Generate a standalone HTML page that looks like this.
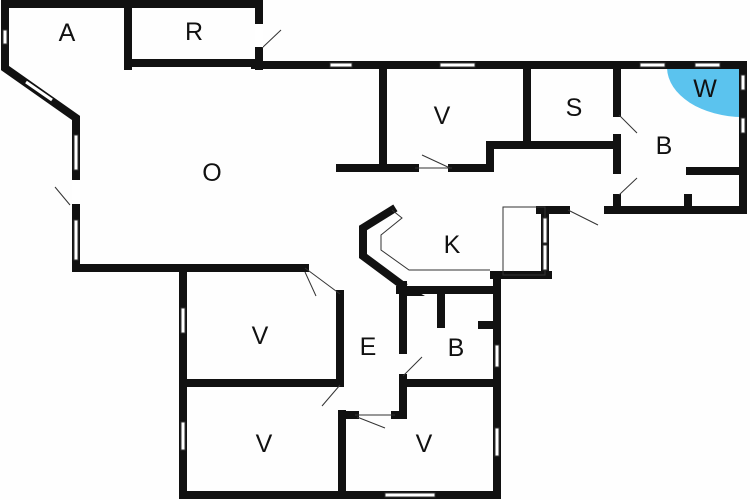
<!DOCTYPE html>
<html><head><style>html,body{margin:0;padding:0;background:#fff;}svg{display:block}</style></head>
<body>
<svg width="750" height="500" viewBox="0 0 750 500" xmlns="http://www.w3.org/2000/svg">
<rect width="750" height="500" fill="#fefefe"/>
<path d="M743 68 L743 117 A 76 50 0 0 1 667 68 Z" fill="#5bc3ee"/>
<g stroke="#111" stroke-width="8" fill="none" stroke-linecap="square">
<polyline points="259,22 259,4 5,4 5,68 76,118 76,268 305,268"/>
<line x1="128" y1="4" x2="128" y2="66"/>
<line x1="128" y1="63" x2="259" y2="63"/>
<line x1="259" y1="48" x2="259" y2="66"/>
<polyline points="255,65 743,65 743,210 608,210"/>
<line x1="383" y1="65" x2="383" y2="168"/>
<line x1="340" y1="168" x2="415" y2="168"/>
<polyline points="452,168 490,168 490,145 617,145"/>
<line x1="527" y1="65" x2="527" y2="143"/>
<line x1="617" y1="65" x2="617" y2="113"/>
<line x1="617" y1="138" x2="617" y2="170"/>
<line x1="617" y1="198" x2="617" y2="210"/>
<line x1="690" y1="171" x2="740" y2="171"/>
<line x1="688" y1="198" x2="688" y2="210"/>
<line x1="540" y1="210" x2="566" y2="210"/>
<line x1="545" y1="210" x2="545" y2="275"/>
<line x1="494" y1="275" x2="548" y2="275"/>
<polyline points="392,210 363,228 363,256 402,285"/>
<line x1="400" y1="290" x2="497" y2="290"/>
<line x1="183" y1="268" x2="183" y2="495"/>
<line x1="183" y1="495" x2="497" y2="495"/>
<line x1="497" y1="277" x2="497" y2="495"/>
<line x1="340" y1="294" x2="340" y2="382"/>
<line x1="183" y1="383" x2="340" y2="383"/>
<line x1="342" y1="414" x2="342" y2="495"/>
<line x1="342" y1="415" x2="355" y2="415"/>
<line x1="395" y1="415" x2="403" y2="415"/>
<line x1="403" y1="285" x2="403" y2="350"/>
<line x1="403" y1="378" x2="403" y2="415"/>
<line x1="403" y1="383" x2="497" y2="383"/>
<line x1="441" y1="293" x2="441" y2="324"/>
<line x1="482" y1="325" x2="497" y2="325"/>
</g>
<polygon points="400,282 400,296 425,296" fill="#111"/>
<g stroke="#333" stroke-width="1" fill="none">
<polyline points="392,210 402,218 381,235 381,250 409,270 490,270"/>
<rect x="503" y="207" width="42" height="68"/>
<line x1="305" y1="268" x2="340" y2="294"/>
<line x1="305" y1="272" x2="316" y2="296"/>
<line x1="262" y1="48" x2="281" y2="30"/>
<line x1="70" y1="205" x2="55" y2="187"/>
<line x1="422" y1="155" x2="450" y2="168"/>
<line x1="619" y1="115" x2="637" y2="133"/>
<line x1="619" y1="195" x2="637" y2="178"/>
<line x1="568" y1="210" x2="598" y2="225"/>
<line x1="403" y1="376" x2="422" y2="357"/>
<line x1="340" y1="385" x2="322" y2="406"/>
<line x1="357" y1="417" x2="385" y2="428"/>
<line x1="415" y1="168" x2="452" y2="168"/>
<line x1="355" y1="415" x2="395" y2="415"/>
</g>
<g fill="#fff" stroke="#333" stroke-width="1">
<rect x="3" y="30" width="4" height="14"/>
<rect x="74" y="135" width="4" height="35"/>
<rect x="74" y="220" width="4" height="40"/>
<rect x="330" y="63" width="22" height="4"/>
<rect x="440" y="63" width="35" height="4"/>
<rect x="640" y="63" width="25" height="4"/>
<rect x="695" y="63" width="25" height="4"/>
<rect x="741" y="75" width="4" height="15"/>
<rect x="741" y="118" width="4" height="15"/>
<rect x="543" y="218" width="4" height="25"/>
<rect x="543" y="245" width="4" height="25"/>
<rect x="181" y="308" width="4" height="25"/>
<rect x="181" y="422" width="4" height="28"/>
<rect x="495" y="345" width="4" height="22"/>
<rect x="495" y="428" width="4" height="28"/>
<rect x="385" y="493" width="50" height="4"/>
<rect x="255" y="24" width="8" height="23" stroke="none"/>
<rect x="72" y="180" width="8" height="24" stroke="none"/>
</g>
<line x1="26" y1="82" x2="52" y2="100" stroke="#fff" stroke-width="3"/>
<g font-family="Liberation Sans, sans-serif" font-size="25" fill="#111" text-anchor="middle">
<text x="67" y="41">A</text>
<text x="194" y="40">R</text>
<text x="212" y="181">O</text>
<text x="442" y="124">V</text>
<text x="574" y="116">S</text>
<text x="705" y="97">W</text>
<text x="664" y="154">B</text>
<text x="452" y="253">K</text>
<text x="260" y="344">V</text>
<text x="368" y="355">E</text>
<text x="456" y="356">B</text>
<text x="264" y="452">V</text>
<text x="424" y="452">V</text>
</g>
</svg>
</body></html>
